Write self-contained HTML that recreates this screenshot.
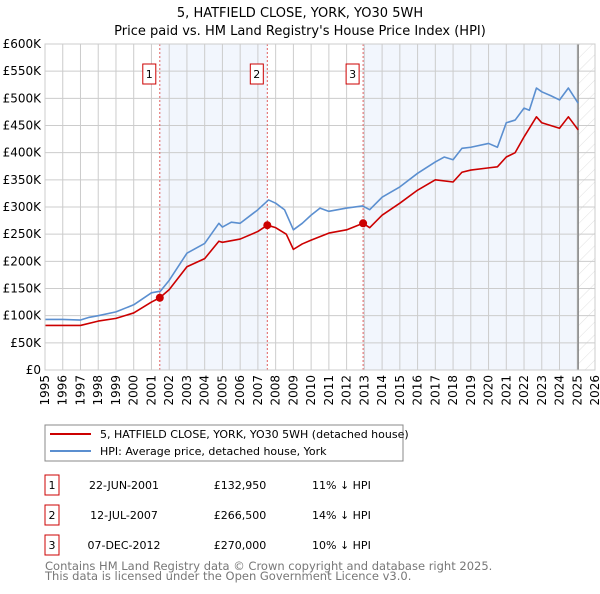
<!DOCTYPE html>
<html><head><meta charset="utf-8"><style>
body{margin:0;background:#fff;font-family:"DejaVu Sans","Liberation Sans",sans-serif;}
svg text{font-family:"DejaVu Sans","Liberation Sans",sans-serif;}
</style></head><body>
<svg id="c" width="600" height="590" xmlns="http://www.w3.org/2000/svg">
<defs><pattern id="hatch" width="9" height="9" patternUnits="userSpaceOnUse" patternTransform="rotate(45)"><line x1="0" y1="0" x2="0" y2="9" stroke="#d8d8d8" stroke-width="0.8"/></pattern></defs>
<text x="300" y="17" text-anchor="middle" font-size="13">5, HATFIELD CLOSE, YORK, YO30 5WH</text>
<text x="300" y="35" text-anchor="middle" font-size="13">Price paid vs. HM Land Registry's House Price Index (HPI)</text>
<g id="plot"></g>
<rect x="45" y="425" width="358" height="36" fill="#fff" stroke="#888"/>
<line x1="50" y1="434" x2="91" y2="434" stroke="#cc0000" stroke-width="2"/>
<text x="100" y="438" font-size="11">5, HATFIELD CLOSE, YORK, YO30 5WH (detached house)</text>
<line x1="50" y1="451" x2="91" y2="451" stroke="#5b8fd0" stroke-width="2"/>
<text x="100" y="455" font-size="11">HPI: Average price, detached house, York</text>
<g id="tbl" font-size="11"></g>
<text x="45" y="570" font-size="11.5" fill="#777">Contains HM Land Registry data © Crown copyright and database right 2025.</text>
<text x="45" y="580" font-size="11.5" fill="#777">This data is licensed under the Open Government Licence v3.0.</text>
</svg>
<script>
const hpiDates=[1995,1996,1997,1997.5,1998,1999,2000,2001,2001.5,2002,2003,2004,2004.8,2005,2005.5,2006,2007,2007.6,2008,2008.5,2009,2009.5,2010,2010.5,2011,2012,2012.9,2013.3,2014,2015,2016,2017,2017.5,2018,2018.5,2019,2020,2020.5,2021,2021.5,2022,2022.3,2022.7,2023,2023.5,2024,2024.5,2025.05];
const hpiValues=[93,93,92,97,100,107,120,142,145,165,215,233,270,263,272,270,295,313,307,295,258,270,285,298,292,298,302,295,318,337,362,383,392,387,408,410,417,410,455,460,482,478,519,512,505,497,519,491];
const priceDates=[1995,1997,1998,1999,2000,2001,2001.47,2002,2003,2004,2004.8,2005,2006,2007,2007.53,2008,2008.6,2009,2009.5,2010,2011,2012,2012.93,2013.3,2014,2015,2016,2017,2018,2018.5,2019,2020,2020.5,2021,2021.5,2022,2022.7,2023,2024,2024.5,2025.05];
const priceValues=[82,82,90,95,105,125,133,148,190,205,237,235,241,255,266.5,262,250,222,232,239,252,258,270,262,285,307,331,350,346,364,368,372,374,392,400,429,466,455,445,466,442];
const saleLabels=["1","2","3"];
const saleDates=[2001.47,2007.53,2012.93];
const saleValues=[132.95,266.5,270];
const saleDateText=["22-JUN-2001","12-JUL-2007","07-DEC-2012"];
const salePriceText=["£132,950","£266,500","£270,000"];
const saleHpiText=["11% ↓ HPI","14% ↓ HPI","10% ↓ HPI"];
const yTicks=[0,50,100,150,200,250,300,350,400,450,500,550,600];
const xTicks=[1995,1996,1997,1998,1999,2000,2001,2002,2003,2004,2005,2006,2007,2008,2009,2010,2011,2012,2013,2014,2015,2016,2017,2018,2019,2020,2021,2022,2023,2024,2025,2026];
const dataEnd=2025.05;
const X0=45,X1=595,Y0=370,Y1=44;
const sx=v=>X0+(v-1995)/(2026-1995)*(X1-X0);
const sy=v=>Y0-v/600*(Y0-Y1);
const NS="http://www.w3.org/2000/svg";
const plot=document.getElementById('plot');
function mk(tag,attrs,parent){const e=document.createElementNS(NS,tag);for(const k in attrs)e.setAttribute(k,attrs[k]);(parent||plot).appendChild(e);return e;}
let s=mk('rect',{x:sx(saleDates[0]),y:Y1,width:sx(saleDates[1])-sx(saleDates[0]),height:Y0-Y1,fill:'#f2f6fd'});


s=mk('rect',{x:sx(saleDates[2]),y:Y1,width:sx(dataEnd)-sx(saleDates[2]),height:Y0-Y1,fill:'#f2f6fd'});


s=mk('rect',{x:sx(dataEnd),y:Y1,width:X1-sx(dataEnd),height:Y0-Y1,fill:'url(#hatch)'});


yTicks.forEach(t=>{
 const l=mk('line',{x1:X0,x2:X1,y1:sy(t),y2:sy(t),stroke:'#ccc'});
 
 
 const tx=mk('text',{x:X0-4,y:sy(t)+4,'text-anchor':'end','font-size':12});
 
 
 tx.textContent=t===0?'£0':'£'+t+'K';
});
xTicks.forEach(t=>{
 const l=mk('line',{x1:sx(t),x2:sx(t),y1:Y1,y2:Y0,stroke:'#ccc'});
 
 
 const tx=mk('text',{x:0,y:0,'text-anchor':'end','font-size':12,transform:`translate(${sx(t)+4},${Y0+5}) rotate(-90)`});
 
 
 tx.textContent=t;
});
let el=mk('line',{x1:sx(dataEnd),x2:sx(dataEnd),y1:Y1,y2:Y0,stroke:'#888','stroke-width':1.5});


saleDates.forEach((d,i)=>{
 const l=mk('line',{x1:sx(d),x2:sx(d),y1:Y1,y2:Y0,stroke:'#e06060','stroke-dasharray':'2,2'});
 
 
 const r=mk('rect',{x:sx(d)-17,y:64,width:13,height:20,fill:'#fff',stroke:'#cc0000'});
 
 
 const t=mk('text',{x:sx(d)-10.5,y:78,'text-anchor':'middle','font-size':11});
 
 
 t.textContent=saleLabels[i];
});
function line(ds,vs,col,name){
 const p=mk('polyline',{points:ds.map((d,i)=>sx(d)+','+sy(vs[i])).join(' '),fill:'none',stroke:col,'stroke-width':1.6,'stroke-linejoin':'round'});
 
 
}
line(hpiDates,hpiValues,'#5b8fd0','hpi-line');
line(priceDates,priceValues,'#cc0000','price-paid-line');
saleDates.forEach((d,i)=>{
 const c=mk('circle',{cx:sx(d),cy:sy(saleValues[i]),r:4,fill:'#cc0000'});
 
 
});
const b=mk('rect',{x:X0,y:Y1,width:X1-X0,height:Y0-Y1,fill:'none',stroke:'#ccc'});


const tbl=document.getElementById('tbl');
saleLabels.forEach((lab,i)=>{
 const y=475+i*30;
 const r=mk('rect',{x:45,y:y,width:14,height:20,fill:'#fff',stroke:'#cc0000'},tbl);
 
 
 const cols=[[52,lab,'middle'],[124,saleDateText[i],'middle'],[240,salePriceText[i],'middle'],[312,saleHpiText[i],'start']];
 cols.forEach(([x,txt,a],j)=>{
  const t=mk('text',{x:x,y:y+14,'text-anchor':a},tbl);
  
  
  t.textContent=txt;
 });
});
</script>
</body></html>
